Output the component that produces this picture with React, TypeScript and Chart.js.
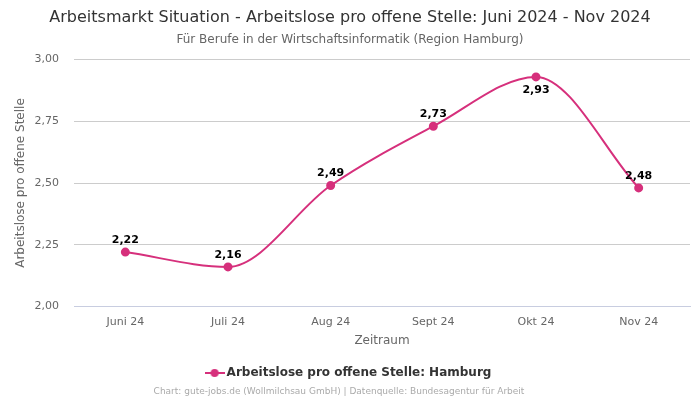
import React, { useEffect, useRef } from "react";
import { Chart, registerables } from "chart.js";

Chart.register(...registerables);

const categories = ["Juni 24", "Juli 24", "Aug 24", "Sept 24", "Okt 24", "Nov 24"];
const values = [2.22, 2.16, 2.49, 2.73, 2.93, 2.48];
const labelBelow = [false, false, false, false, true, false];
const seriesLabel = "Arbeitslose pro offene Stelle: Hamburg";
const titleText = "Arbeitsmarkt Situation - Arbeitslose pro offene Stelle: Juni 2024 - Nov 2024";
const subtitleText = "Für Berufe in der Wirtschaftsinformatik (Region Hamburg)";
const footerText = "Chart: gute-jobs.de (Wollmilchsau GmbH) | Datenquelle: Bundesagentur für Arbeit";

const COLOR = "#d6307c";
const FONT = "'DejaVu Sans', sans-serif";
const fmt = (v: number) => v.toFixed(2).replace(".", ",");

export default function App() {
  const ref = useRef<HTMLCanvasElement | null>(null);
  useEffect(() => {
    document.body.style.margin = "0";
    const canvas = ref.current!;
    const marker = document.createElement("canvas");
    marker.width = 20;
    marker.height = 10;
    const mc = marker.getContext("2d")!;
    mc.strokeStyle = COLOR;
    mc.lineWidth = 2;
    mc.beginPath();
    mc.moveTo(0, 5);
    mc.lineTo(20, 5);
    mc.stroke();
    mc.fillStyle = COLOR;
    mc.beginPath();
    mc.arc(10, 5, 4, 0, Math.PI * 2);
    mc.fill();

    const labelsPlugin = {
      id: "valueLabels",
      afterDatasetsDraw(chart: any) {
        const ctx = chart.ctx;
        const meta = chart.getDatasetMeta(0);
        ctx.save();
        ctx.font = `bold 11px ${FONT}`;
        ctx.fillStyle = "#000";
        ctx.textAlign = "center";
        ctx.textBaseline = "middle";
        meta.data.forEach((pt: any, i: number) => {
          const dy = labelBelow[i] ? 13 : -12;
          ctx.fillText(fmt(values[i]), pt.x, pt.y + dy);
        });
        ctx.restore();
      },
    };
    const footerPlugin = {
      id: "footer",
      afterDraw(chart: any) {
        const ctx = chart.ctx;
        ctx.save();
        ctx.font = `9px ${FONT}`;
        ctx.fillStyle = "#aaa";
        ctx.textAlign = "center";
        ctx.textBaseline = "middle";
        ctx.fillText(footerText, 339, 392);
        ctx.restore();
      },
    };

    const chart = new Chart(canvas, {
      type: "line",
      data: {
        labels: categories,
        datasets: [
          {
            label: seriesLabel,
            data: values,
            borderColor: COLOR,
            backgroundColor: COLOR,
            borderWidth: 2,
            pointRadius: 3.5,
            pointBackgroundColor: COLOR,
            pointBorderColor: COLOR,
            cubicInterpolationMode: "monotone",
            fill: false,
          },
        ],
      },
      options: {
        animation: false,
        responsive: false,
        layout: { padding: { left: 10, right: 10, top: 4, bottom: 11 } },
        plugins: {
          title: {
            display: true,
            text: titleText,
            color: "#333",
            font: { family: FONT, size: 16, weight: "normal" },
            padding: { top: 4, bottom: 5 },
          },
          subtitle: {
            display: true,
            text: subtitleText,
            color: "#666",
            font: { family: FONT, size: 12, weight: "normal" },
            padding: { bottom: 13 },
          },
          legend: {
            position: "bottom",
            labels: {
              usePointStyle: true,
              pointStyle: marker as any,
              color: "#333",
              font: { family: FONT, size: 12, weight: "bold" },
              padding: 10,
            },
          },
          tooltip: { enabled: false },
        },
        scales: {
          x: {
            offset: true,
            grid: { display: false },
            border: { display: true, color: "#c8cde0" },
            ticks: { color: "#666", font: { family: FONT, size: 11 }, padding: 1 },
            title: {
              display: true,
              text: "Zeitraum",
              color: "#666",
              font: { family: FONT, size: 12 },
              padding: { top: 4, bottom: 9 },
            },
          },
          y: {
            min: 2,
            max: 3,
            afterFit: (scale: any) => {
              scale.width = 64;
            },
            ticks: {
              stepSize: 0.25,
              color: "#666",
              font: { family: FONT, size: 11 },
              padding: 15,
              callback: (v: any) => fmt(Number(v)),
            },
            grid: { color: "#cccccc", drawTicks: false },
            border: { display: false },
            title: {
              display: true,
              text: "Arbeitslose pro offene Stelle",
              color: "#666",
              font: { family: FONT, size: 12 },
              padding: { top: 4, bottom: 0 },
            },
          },
        },
      },
      plugins: [labelsPlugin, footerPlugin],
    });
    return () => chart.destroy();
  }, []);
  return <canvas ref={ref} width={700} height={400} style={{ display: "block" }} />;
}
